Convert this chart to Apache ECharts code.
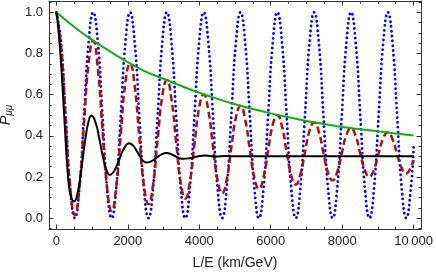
<!DOCTYPE html>
<html>
<head>
<meta charset="utf-8">
<script src="https://cdn.jsdelivr.net/npm/echarts@6/dist/echarts.min.js"></script>
<style>
html,body{margin:0;padding:0;background:#fff;}
#c{width:436px;height:275px;}
</style>
</head>
<body>
<div id="c"></div>
<script>
// sampling grid for oscillating curves (km/GeV)
const gridX = [0,129,258,387,516,644,773,902,1031,1160,1289,1418,1547,1675,1804,1933,2062,2191,2320,2449,2578,2706,2835,2964,3093,3222,3351,3480,3609,3737,3866,3995,4124,4253,4382,4511,4640,4768,4897,5026,5155,5284,5413,5542,5671,5799,5928,6057,6186,6315,6444,6573,6702,6830,6959,7088,7217,7346,7475,7604,7733,7861,7990,8119,8248,8377,8506,8635,8764,8892,9021,9150,9279,9408,9537,9666,9795,9923,10000];
// blue dotted (vacuum oscillation)
const blueY = [1,.854,.5,.146,0,.146,.5,.854,1,.854,.5,.146,0,.146,.5,.854,1,.854,.5,.146,0,.146,.5,.854,1,.854,.5,.146,0,.146,.5,.854,1,.854,.5,.146,0,.146,.5,.854,1,.854,.5,.146,0,.146,.5,.854,1,.854,.5,.146,0,.146,.5,.854,1,.854,.5,.146,0,.146,.5,.854,1,.854,.5,.146,0,.146,.5,.854,1,.854,.5,.146,0,.146,.344];
// red dashed (damped oscillation)
const redY = [1.0,.840,.487,.148,.015,.149,.459,.754,.862,.728,.432,.148,.035,.149,.411,.661,.752,.642,.396,.160,.068,.163,.383,.593,.671,.577,.371,.172,.095,.176,.360,.536,.601,.523,.351,.185,.120,.187,.342,.490,.545,.480,.335,.196,.142,.199,.330,.454,.501,.446,.325,.208,.163,.211,.321,.426,.465,.420,.318,.221,.183,.224,.316,.404,.437,.399,.314,.233,.201,.236,.314,.388,.417,.384,.312,.243,.217,.246,.282];
// green solid (envelope)
const greenX = [0,500,1000,1500,2000,2500,3000,3500,4000,4500,5000,5500,6000,6500,7000,7500,8000,8500,9000,9500,10000];
const greenY = [1.0,.929,.866,.81,.758,.712,.677,.642,.609,.580,.553,.530,.509,.490,.472,.457,.443,.432,.422,.411,.401];
// black solid (strongly damped)
const blackX = [0,50,100,150,200,250,300,350,400,450,494,600,700,800,900,982,1100,1200,1300,1400,1495,1600,1700,1800,1900,2037,2150,2250,2350,2450,2524,2650,2800,2950,3086,3250,3400,3551,3750,3950,4160,4450,4750,5100,6000,7000,8000,9000,10000];
const blackY = [1.0,.927,.826,.701,.555,.403,.259,.16,.11,.087,.081,.127,.239,.370,.470,.498,.462,.388,.301,.234,.21,.224,.258,.302,.341,.364,.352,.326,.297,.275,.270,.2755,.292,.31,.316,.308,.295,.288,.292,.2997,.304,.299,.3015,.300,.300,.300,.300,.300,.300];
// ticks
const xMajor = [0,2000,4000,6000,8000,10000];
const xTickLabels = ['0','2000','4000','6000','8000','10\u2009000'];
const xMinor = [500,1000,1500,2500,3000,3500,4500,5000,5500,6500,7000,7500,8500,9000,9500];
const yMajor = [0,0.2,0.4,0.6,0.8,1.0];
const yTickLabels = ['0.0','0.2','0.4','0.6','0.8','1.0'];
const yMinor = [-0.05,0.05,0.1,0.15,0.25,0.3,0.35,0.45,0.5,0.55,0.65,0.7,0.75,0.85,0.9,0.95,1.05];

const X_MIN = -207, X_MAX = 10207, Y_MIN = -0.053, Y_MAX = 1.055;
const frameColor = '#333';
const font = 'Liberation Sans, Arial, sans-serif';

function lab(major, labels){
  return function(v){
    for (let i=0;i<major.length;i++){ if (Math.abs(major[i]-v) < 1e-9) return labels[i]; }
    return '';
  };
}
function axis(kind, position, ticks, len, showLine, labels){
  const a = {
    type: 'value', position: position,
    min: kind==='x'?X_MIN:Y_MIN, max: kind==='x'?X_MAX:Y_MAX,
    splitLine: {show:false},
    axisLine: {show: showLine, onZero:false, lineStyle:{color:frameColor, width:1}},
    axisTick: {show:true, inside:true, length:len, customValues: ticks, lineStyle:{color:frameColor, width:1}},
    axisLabel: {show:false}
  };
  if (labels) {
    a.axisLabel = {show:true, customValues: ticks, formatter: lab(ticks, labels),
      color:'#222', fontSize:13, fontFamily:font, margin:6};
  }
  return a;
}
const xAxes = [
  axis('x','bottom',xMajor,4.5,true,xTickLabels),
  axis('x','bottom',xMinor,2.5,false,null),
  axis('x','top',xMajor,4.5,true,null),
  axis('x','top',xMinor,2.5,false,null)
];
xAxes[0].name = 'L/E (km/GeV)';
xAxes[0].nameLocation = 'middle';
xAxes[0].nameGap = 27.5;
xAxes[0].nameTextStyle = {fontSize:14, fontFamily:font, color:'#222'};
const yAxes = [
  axis('y','left',yMajor,4.5,true,yTickLabels),
  axis('y','left',yMinor,2.5,false,null),
  axis('y','right',yMajor,4.5,true,null),
  axis('y','right',yMinor,2.5,false,null)
];
yAxes[0].name = '{p|P}{s|μμ}';
yAxes[0].nameLocation = 'middle';
yAxes[0].nameRotate = 90;
yAxes[0].nameGap = 29;
yAxes[0].nameTextStyle = {color:'#222', fontFamily:font,
  rich:{ p:{fontSize:14.5, fontStyle:'italic', fontFamily:font, color:'#222'},
         s:{fontSize:10, fontStyle:'italic', fontFamily:font, color:'#222', padding:[7,0,0,0]} } };

function pairs(xs, ys){ return xs.map((x,i)=>[x, ys[i]]); }

const chart = echarts.init(document.getElementById('c'), null, {renderer:'canvas'});
chart.setOption({
  animation:false,
  backgroundColor:'#fff',
  grid:{left:49, right:15, top:1, bottom:46, outerBoundsMode:'none'},
  xAxis: xAxes,
  yAxis: yAxes,
  series:[
    {type:'line', data:pairs(gridX, blueY), smooth:true, showSymbol:false, z:2,
     lineStyle:{color:'#0000ff', width:2.8, type:[0.1,4.7], cap:'round'}},
    {type:'line', data:pairs(gridX, redY), smooth:true, showSymbol:false, z:3,
     lineStyle:{color:'#aa1111', width:2.5, type:[7,3.5]}},
    {type:'line', data:pairs(greenX, greenY), smooth:true, showSymbol:false, z:4,
     lineStyle:{color:'#14ad14', width:2}},
    {type:'line', data:pairs(blackX, blackY), smooth:true, showSymbol:false, z:5,
     lineStyle:{color:'#000', width:2}}
  ]
});
</script>
</body>
</html>
